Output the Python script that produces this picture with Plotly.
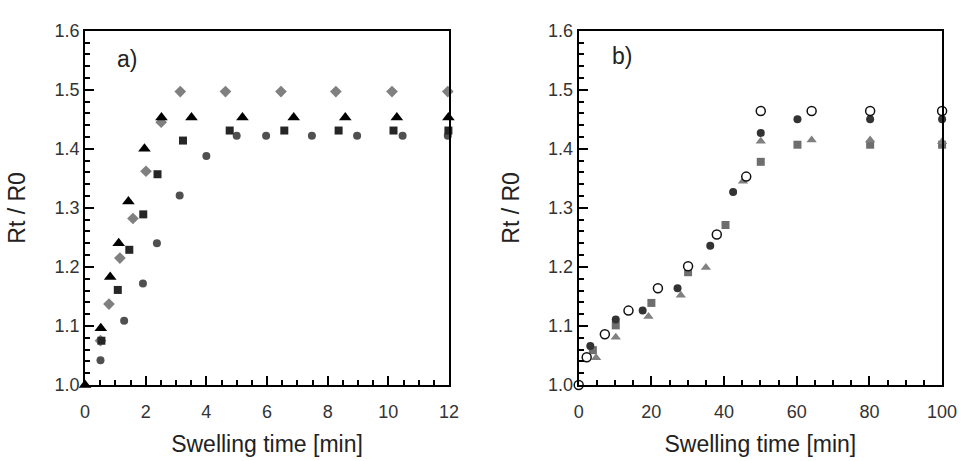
import plotly.graph_objects as go

# ---- Panel a) data ----
a_tri_x = [0, 0.52, 0.83, 1.11, 1.43, 1.96, 2.52, 3.51, 5.19, 6.88, 8.58, 10.28, 11.98]
a_tri_y = [1.0, 1.096, 1.183, 1.240, 1.311, 1.400, 1.453, 1.453, 1.453, 1.453, 1.453, 1.453, 1.453]

a_dia_x = [0.51, 0.79, 1.15, 1.58, 2.01, 2.51, 3.14, 4.63, 6.46, 8.27, 10.12, 11.96]
a_dia_y = [1.075, 1.137, 1.215, 1.282, 1.362, 1.445, 1.497, 1.497, 1.497, 1.497, 1.497, 1.497]

a_sq_x = [0.54, 1.08, 1.46, 1.92, 2.39, 3.23, 4.77, 6.57, 8.36, 10.17, 11.98]
a_sq_y = [1.075, 1.161, 1.229, 1.289, 1.357, 1.414, 1.431, 1.431, 1.431, 1.431, 1.431]

a_cir_x = [0.51, 1.29, 1.91, 2.37, 3.12, 4.00, 5.00, 5.97, 7.48, 8.97, 10.47, 11.96]
a_cir_y = [1.042, 1.109, 1.172, 1.240, 1.321, 1.388, 1.422, 1.422, 1.422, 1.422, 1.422, 1.422]

# ---- Panel b) data ----
b_open_x = [0, 2.2, 7.2, 13.7, 21.8, 30.1, 38.0, 46.1, 50.1, 64.1, 80.2, 100.0]
b_open_y = [1.0, 1.047, 1.086, 1.126, 1.164, 1.201, 1.255, 1.353, 1.464, 1.464, 1.464, 1.464]

b_cir_x = [3.2, 10.2, 17.6, 27.2, 36.2, 42.5, 50.1, 60.2, 80.2, 100.0]
b_cir_y = [1.066, 1.111, 1.126, 1.164, 1.236, 1.327, 1.427, 1.450, 1.450, 1.450]

b_sq_x = [3.9, 10.2, 20.0, 30.1, 40.4, 50.1, 60.2, 80.2, 100.0]
b_sq_y = [1.059, 1.101, 1.139, 1.191, 1.271, 1.378, 1.407, 1.407, 1.407]

b_tri_x = [4.8, 10.2, 19.2, 28.1, 35.0, 45.2, 50.1, 64.1, 80.2, 100.0]
b_tri_y = [1.046, 1.081, 1.116, 1.152, 1.199, 1.345, 1.413, 1.415, 1.415, 1.412]

x_title = "Swelling time [min]"
y_title = "Rt / R0"

W, H = 976, 461
A_DOM = [81.7 / W, 453.3 / W]
B_DOM = [585.7 / W, 956.7 / W]
Y_DOM = [1 - 392 / H, 1 - 21.7 / H]

fig = go.Figure()

def add(x, y, sym, size, color, xa, ya, line_color=None, line_w=0):
    fig.add_trace(go.Scatter(
        x=x, y=y, mode="markers", xaxis=xa, yaxis=ya, cliponaxis=False,
        marker=dict(symbol=sym, size=size, color=color,
                    line=dict(color=line_color or color, width=line_w)),
        showlegend=False, hoverinfo="x+y"))

# panel a
add(a_cir_x, a_cir_y, "circle", 8, "#505050", "x", "y")
add(a_dia_x, a_dia_y, "diamond", 9, "#808080", "x", "y")
add(a_sq_x, a_sq_y, "square", 8, "#262626", "x", "y")
add(a_tri_x, a_tri_y, "triangle-up", 11, "#000000", "x", "y")

# panel b
add(b_sq_x, b_sq_y, "square", 8, "#6e6e6e", "x2", "y2")
add(b_tri_x, b_tri_y, "triangle-up", 9, "#808080", "x2", "y2")
add(b_cir_x, b_cir_y, "circle", 8, "#333333", "x2", "y2")
add(b_open_x, b_open_y, "circle", 9, "white", "x2", "y2", line_color="#111111", line_w=1.5)

FONT = "Liberation Sans, Arial, sans-serif"
tickfont = dict(family=FONT, size=18, color="#333333")
titlefont = dict(family=FONT, size=23, color="#222222")

def xaxis(dom, rng, dt, mdt, anchor):
    return dict(domain=dom, range=rng, tickmode="linear", dtick=dt, tick0=0, anchor=anchor,
                showgrid=False, zeroline=False, showline=True, linecolor="black",
                linewidth=2, mirror=True, ticks="inside", ticklen=9, tickwidth=2,
                tickcolor="black", tickfont=tickfont, ticklabelstandoff=9,
                minor=dict(ticks="inside", ticklen=5, dtick=mdt, tick0=0, tickwidth=1.5,
                           tickcolor="black", showgrid=False),
                title=dict(text=x_title, font=titlefont, standoff=15))

def yaxis(dom, anchor):
    return dict(domain=dom, range=[1.0, 1.6], tickmode="linear", dtick=0.1, tick0=1.0,
                anchor=anchor, tickformat=".1f",
                showgrid=False, zeroline=False, showline=True, linecolor="black",
                linewidth=2, mirror=True, ticks="inside", ticklen=9, tickwidth=2,
                tickcolor="black", tickfont=tickfont, ticklabelstandoff=0,
                minor=dict(ticks="inside", ticklen=5, dtick=0.02, tick0=1.0, tickwidth=1.5,
                           tickcolor="black", showgrid=False),
                title=dict(text=y_title, font=titlefont, standoff=22))

fig.update_layout(
    width=W, height=H,
    margin=dict(l=0, r=0, t=0, b=0),
    paper_bgcolor="white", plot_bgcolor="white",
    xaxis=xaxis(A_DOM, [0, 12], 2, 0.5, "y"),
    yaxis=yaxis(Y_DOM, "x"),
    xaxis2=xaxis(B_DOM, [0, 100], 20, 5, "y2"),
    yaxis2=yaxis(Y_DOM, "x2"),
    annotations=[
        dict(text="a)", x=1.0, y=1.553, xref="x", yref="y", showarrow=False,
             font=dict(family=FONT, size=23, color="#222222"),
             xanchor="left", yanchor="middle"),
        dict(text="b)", x=8.7, y=1.558, xref="x2", yref="y2", showarrow=False,
             font=dict(family=FONT, size=23, color="#222222"),
             xanchor="left", yanchor="middle"),
    ],
)

fig.write_html("out.html")
